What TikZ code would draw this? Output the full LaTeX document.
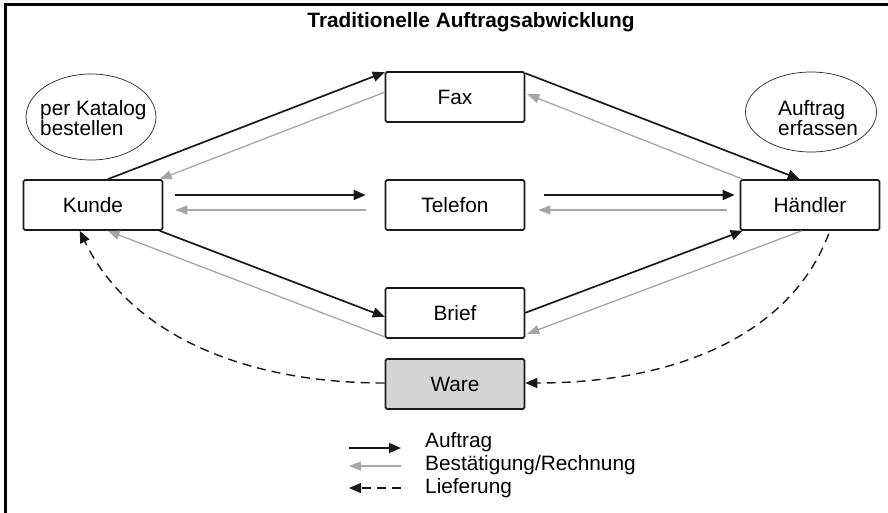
\documentclass[tikz,border=0pt]{standalone}
\usepackage{fontspec}
\setmainfont{Liberation Sans}
\usetikzlibrary{arrows.meta,shapes.geometric,calc}
\definecolor{lgray}{RGB}{166,166,166}
\definecolor{warefill}{RGB}{212,212,212}
\begin{document}
\begin{tikzpicture}[x=1pt,y=-1pt,
  every node/.style={font=\fontsize{20.8}{23}\selectfont},
  box/.style={draw=black!90,line width=1.6pt,rounded corners=1.5pt,minimum width=139pt,minimum height=50pt,inner sep=0pt},
  ovaltext/.style={inner sep=0pt,align=left,font=\fontsize{20.8}{20.5}\selectfont},
  ovalline/.style={draw=black!85,line width=0.7pt},
  auf/.style={draw=black!90,line width=1.7pt,-{Triangle[length=12pt,width=10pt]}},
  best/.style={draw=lgray,line width=1.3pt,-{Triangle[length=12pt,width=9pt]}},
  lief/.style={draw=black!90,line width=1.4pt,dash pattern=on 9pt off 6pt,-{Triangle[length=12pt,width=10pt]}}
]
\useasboundingbox (0,0) rectangle (888,512);
% frame
\draw[line width=2.4pt] (5.5,520) -- (5.5,4.5) -- (895,4.5);
\node[font=\bfseries\fontsize{20.8}{23}\selectfont] (title) at (471,22) {Traditionelle Auftragsabwicklung};

\node[box] (kunde) at (93,205) {Kunde};
\node[box] (fax) at (455,97) {Fax};
\node[box] (tel) at (455,205) {Telefon};
\node[box] (brief) at (455,313) {Brief};
\node[box,fill=warefill] (ware) at (455,384) {Ware};
\node[box] (hand) at (810,205) {Händler};

\coordinate (katc) at (91,117);
\draw[ovalline] (katc) ellipse [x radius=65, y radius=43];
\node[ovaltext,anchor=west] (kat) at (40,118) {per Katalog\\bestellen};
\coordinate (erfc) at (811,112);
\draw[ovalline] (erfc) ellipse [x radius=65.5, y radius=40];
\node[ovaltext,anchor=west] (erf) at (778,118) {Auftrag\\erfassen};

% Kunde <-> Fax
\draw[auf] ([xshift=85pt]kunde.north west) -- ([yshift=-1pt]fax.north west);
\draw[best] ([yshift=-21pt]fax.north west) -- ([xshift=137pt]kunde.north west);
% Kunde <-> Telefon
\draw[auf] ([xshift=12pt,yshift=10pt]kunde.east) -- ([xshift=-19pt,yshift=10pt]tel.west);
\draw[best] ([xshift=-19pt,yshift=-5pt]tel.west) -- ([xshift=12pt,yshift=-5pt]kunde.east);
% Kunde <-> Brief
\draw[auf] ([xshift=137pt]kunde.south west) -- ([yshift=22pt]brief.south west);
\draw[best] ([yshift=2pt]brief.south west) -- ([xshift=85pt]kunde.south west);
% Fax <-> Haendler
\draw[auf] ([yshift=-2pt]fax.north east) -- ([xshift=60pt]hand.north west);
\draw[best] ([xshift=3pt]hand.north west) -- ([xshift=2pt,yshift=-23pt]fax.north east);
% Telefon <-> Haendler
\draw[auf] ([xshift=19pt,yshift=10pt]tel.east) -- ([xshift=-5pt,yshift=10pt]hand.west);
\draw[best] ([xshift=-13pt,yshift=-5pt]hand.west) -- ([xshift=13pt,yshift=-5pt]tel.east);
% Brief <-> Haendler
\draw[auf] ([yshift=26pt]brief.south east) -- ([xshift=3pt]hand.south west);
\draw[best] ([xshift=62pt]hand.south west) -- ([xshift=2pt,yshift=5pt]brief.south east);
% Lieferung
\draw[lief] ([yshift=1pt]ware.west) .. controls (235,383) and (127,329) .. ([xshift=57pt]kunde.south west);
\draw[lief] ([xshift=89pt,yshift=-3pt]hand.south west) .. controls (790,336) and (674,383) .. ([yshift=1pt]ware.east);

% legend
\coordinate (l1a) at (349,448); \coordinate (l1b) at (401,448);
\coordinate (l2a) at (349,466); \coordinate (l2b) at (401,466);
\coordinate (l3a) at (349,488); \coordinate (l3b) at (401,488);
\draw[auf] (l1a) -- (l1b);
\draw[best] (l2b) -- (l2a);
\draw[lief,dash pattern=on 9pt off 6pt] (l3b) -- (l3a);
\node[anchor=west,inner sep=0pt] (lg1) at (425,442) {Auftrag};
\node[anchor=west,inner sep=0pt] (lg2) at (425,465) {Bestätigung/Rechnung};
\node[anchor=west,inner sep=0pt] (lg3) at (425,488) {Lieferung};
\end{tikzpicture}
\end{document}
